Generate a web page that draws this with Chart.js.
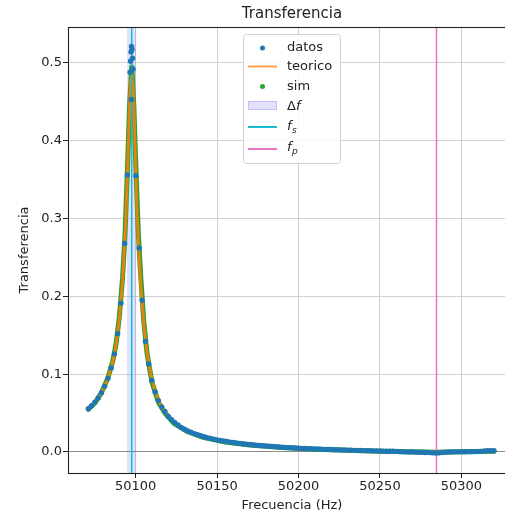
<!DOCTYPE html>
<html>
<head>
<meta charset="utf-8">
<script src="https://cdn.jsdelivr.net/npm/chart.js@4.4.1/dist/chart.umd.min.js"></script>
<style>
  html, body { margin: 0; padding: 0; background: #fff; overflow: hidden; }
  #wrap { width: 505px; height: 513px; overflow: hidden; }
</style>
</head>
<body>
<div id="wrap"><canvas id="transfer" width="520" height="513"></canvas></div>
<script>
// measured transfer vs frequency
const fDatos = [50071, 50073, 50075, 50077, 50079, 50081, 50083, 50085, 50087, 50089, 50091,
  50093.3, 50094.9, 50096.6, 50096.9, 50097.2, 50097.4, 50097.5, 50097.8, 50098.1, 50098.4, 50100.2, 50102.2,
  50104, 50106, 50108, 50110, 50112, 50114, 50116, 50118, 50120, 50122, 50124, 50126, 50128, 50130,
  50132, 50134, 50136, 50138, 50140, 50142, 50144, 50146, 50148, 50150, 50152, 50154, 50156, 50158,
  50160, 50162, 50164, 50166, 50168, 50170, 50172, 50174, 50176, 50178, 50180, 50182, 50184, 50186,
  50188, 50190, 50192, 50194, 50196, 50198, 50200, 50202, 50204, 50206, 50208, 50210, 50212, 50214,
  50216, 50218, 50220, 50222, 50224, 50226, 50228, 50230, 50232, 50234, 50236, 50238, 50240, 50242,
  50244, 50246, 50248, 50250, 50252, 50254, 50256, 50258, 50260, 50262, 50264, 50266, 50268, 50270,
  50272, 50274, 50276, 50278, 50280, 50282, 50284, 50286, 50288, 50290, 50292, 50294, 50296, 50298,
  50300, 50302, 50304, 50306, 50308, 50310, 50312, 50314, 50316, 50318, 50320];
const tDatos = [0.0556, 0.0595, 0.0641, 0.0695, 0.0762, 0.0843, 0.0946, 0.108, 0.126, 0.152, 0.191,
  0.268, 0.356, 0.488, 0.502, 0.514, 0.453, 0.521, 0.517, 0.506, 0.492, 0.355, 0.262,
  0.195, 0.142, 0.113, 0.092, 0.077, 0.066, 0.058, 0.052, 0.046, 0.0415, 0.0378, 0.0346, 0.0315, 0.0292,
  0.0271, 0.0253, 0.0236, 0.0222, 0.0208, 0.0196, 0.0185, 0.0175, 0.0165, 0.0156, 0.0148, 0.0141, 0.0134, 0.0127,
  0.0121, 0.0116, 0.0110, 0.0105, 0.0100, 0.0096, 0.0092, 0.0088, 0.0084, 0.0080, 0.0077, 0.0073, 0.0070, 0.0067,
  0.0064, 0.0061, 0.0059, 0.0056, 0.0054, 0.0052, 0.0049, 0.0047, 0.0045, 0.0043, 0.0041, 0.0039, 0.0038, 0.0036,
  0.0034, 0.0033, 0.0031, 0.0029, 0.0028, 0.0027, 0.0025, 0.0024, 0.0023, 0.0021, 0.0020, 0.0019, 0.0018, 0.0017,
  0.0016, 0.0014, 0.0013, 0.0012, 0.0011, 0.0010, 0.0010, 0.0009, 0.0008, 0.0004, 0.0002, 0.0001, 0.0, 0.0,
  -0.0002, -0.0003, -0.0004, -0.0006, -0.0008, -0.0011, -0.0014, -0.0012, -0.0007, -0.0003, 0.0, 0.0001, 0.0002, 0.0002,
  0.0003, 0.0003, 0.0004, 0.0004, 0.0005, 0.0006, 0.0008, 0.0013, 0.0017, 0.0016, 0.0015];

// theoretical curve
const fTeorico = [50071, 50075, 50079, 50083, 50086, 50088, 50090, 50092, 50094, 50095.5, 50096.7, 50097.6,
  50098.5, 50099.7, 50101, 50103, 50105, 50107, 50110, 50114, 50118, 50124, 50132, 50142, 50155, 50170,
  50190, 50210, 50230, 50250, 50270, 50284, 50300, 50320];
const tTeorico = [0.056, 0.064, 0.076, 0.094, 0.116, 0.138, 0.170, 0.219, 0.300, 0.390, 0.470, 0.485,
  0.470, 0.390, 0.300, 0.219, 0.165, 0.127, 0.092, 0.066, 0.052, 0.038, 0.027, 0.0196, 0.0138, 0.0096,
  0.0061, 0.0039, 0.0024, 0.0012, 0.0003, 0.0, 0.0004, 0.0011];

// simulation
const fSim = [50071, 50075, 50079, 50083, 50086, 50088, 50090, 50092, 50093.5, 50095, 50096.3, 50097.6,
  50098.9, 50100.2, 50101.7, 50103.2, 50105, 50107, 50110, 50114, 50118, 50124, 50132, 50142, 50155,
  50170, 50190, 50210, 50230, 50250, 50270, 50284, 50300, 50320];
const tSim = [0.055, 0.063, 0.076, 0.095, 0.117, 0.139, 0.173, 0.224, 0.280, 0.365, 0.445, 0.495,
  0.445, 0.365, 0.280, 0.224, 0.168, 0.127, 0.090, 0.064, 0.050, 0.036, 0.026, 0.0185, 0.0128,
  0.0090, 0.0057, 0.0036, 0.0022, 0.0011, 0.0002, -0.0003, 0.0002, 0.0010];

const fs = 50097.6;              // series resonance
const fp = 50284.7;              // parallel resonance
const deltaF = [50094.7, 50100.5];

const xTicks = [50100, 50150, 50200, 50250, 50300];
const yTicks = [0.0, 0.1, 0.2, 0.3, 0.4, 0.5];

const X_MIN = 50058.5, X_MAX = 50333.5;
const Y_MIN = -0.027, Y_MAX = 0.546;
const FONT = 'DejaVu Sans';
const TXT = '#222';

const pts = (xs, ys) => xs.map((x, i) => ({ x: x, y: ys[i] }));
const vline = f => [{ x: f, y: Y_MIN }, { x: f, y: Y_MAX }];

// axes frame
const frame = {
  id: 'frame',
  afterDatasetsDraw(chart) {
    const { ctx, chartArea: a } = chart;
    const l = Math.round(a.left) + 0.5, t = Math.round(a.top) + 0.5;
    const r = Math.round(a.right) + 0.5, b = Math.round(a.bottom) + 0.5;
    ctx.save();
    ctx.strokeStyle = '#222';
    ctx.lineWidth = 1.1;
    ctx.strokeRect(l, t, r - l, b - t);
    ctx.restore();
  }
};

// matplotlib-like legend box
const legendBox = {
  id: 'legendBox',
  afterDraw(chart) {
    const ctx = chart.ctx;
    const x0 = 243.5, y0 = 34.5, w = 97, h = 129;
    const hx0 = 248, hx1 = 277, tx = 287;
    ctx.save();
    ctx.beginPath();
    ctx.roundRect(x0, y0, w, h, 3);
    ctx.fillStyle = 'rgba(255,255,255,0.85)';
    ctx.fill();
    ctx.strokeStyle = '#d0d0d0';
    ctx.lineWidth = 1;
    ctx.stroke();

    const dot = (y, c) => {
      ctx.beginPath();
      ctx.arc((hx0 + hx1) / 2, y, 2.5, 0, Math.PI * 2);
      ctx.fillStyle = c;
      ctx.fill();
    };
    const seg = (y, c) => {
      ctx.beginPath();
      ctx.moveTo(hx0, y);
      ctx.lineTo(hx1, y);
      ctx.strokeStyle = c;
      ctx.lineWidth = 2;
      ctx.stroke();
    };
    const label = (y, s) => {
      ctx.font = '13px ' + FONT;
      ctx.fillStyle = TXT;
      ctx.textBaseline = 'middle';
      ctx.textAlign = 'left';
      ctx.fillText(s, tx, y);
    };
    const fSub = (base, sub) => {
      ctx.fillStyle = TXT;
      ctx.textBaseline = 'alphabetic';
      ctx.textAlign = 'left';
      ctx.font = 'italic 13px ' + FONT;
      ctx.fillText('f', tx, base);
      ctx.font = 'italic 9px ' + FONT;
      ctx.fillText(sub, tx + 5, base + 3);
    };

    dot(48, '#1f77b4');
    label(48, 'datos');
    seg(66.5, 'rgba(255,127,14,0.75)');
    label(66.5, 'teorico');
    dot(86.5, '#2ca02c');
    label(86.5, 'sim');

    ctx.fillStyle = 'rgba(60,60,255,0.15)';
    ctx.fillRect(hx0, 101, hx1 - hx0, 9);
    ctx.strokeStyle = 'rgba(60,60,255,0.2)';
    ctx.lineWidth = 1;
    ctx.strokeRect(hx0 + 0.5, 101.5, hx1 - hx0 - 1, 8);
    ctx.font = '13px ' + FONT;
    ctx.fillStyle = TXT;
    ctx.textBaseline = 'alphabetic';
    ctx.fillText('\u0394', tx, 110);
    ctx.font = 'italic 13px ' + FONT;
    ctx.fillText('f', tx + 9, 110);

    seg(127, '#17becf');
    fSub(130, 's');
    seg(149, '#e377c2');
    fSub(151, 'p');
    ctx.restore();
  }
};

new Chart(document.getElementById('transfer'), {
  type: 'scatter',
  data: {
    datasets: [{
      label: 'datos',
      data: pts(fDatos, tDatos),
      showLine: false,
      pointRadius: 2.7,
      pointBorderWidth: 0,
      backgroundColor: '#1f77b4',
      borderColor: '#1f77b4',
      order: 0
    }, {
      label: 'fs',
      data: vline(fs),
      showLine: true,
      borderColor: '#17becf',
      borderWidth: 1.5,
      pointRadius: 0,
      order: 1
    }, {
      label: 'fp',
      data: vline(fp),
      showLine: true,
      borderColor: '#e377c2',
      borderWidth: 1.5,
      pointRadius: 0,
      order: 1
    }, {
      label: 'teorico',
      data: pts(fTeorico, tTeorico),
      showLine: true,
      borderColor: 'rgba(255,127,14,0.85)',
      borderWidth: 3,
      borderJoinStyle: 'round',
      pointRadius: 0,
      order: 2
    }, {
      label: 'sim',
      data: pts(fSim, tSim),
      showLine: true,
      borderColor: '#2ca02c',
      borderWidth: 5,
      borderJoinStyle: 'round',
      borderCapStyle: 'round',
      pointRadius: 0,
      order: 3
    }, {
      label: 'Δf',
      data: [{ x: deltaF[0], y: Y_MAX }, { x: deltaF[1], y: Y_MAX }],
      showLine: true,
      fill: 'start',
      backgroundColor: 'rgba(60,60,255,0.15)',
      borderWidth: 0,
      pointRadius: 0,
      order: 4
    }]
  },
  options: {
    responsive: false,
    animation: false,
    events: [],
    layout: { padding: { left: 0, right: 3, top: 0, bottom: 0 } },
    plugins: {
      legend: { display: false },
      tooltip: { enabled: false },
      title: {
        display: true,
        text: 'Transferencia',
        fullSize: false,
        color: TXT,
        font: { family: FONT, size: 15, weight: 'normal' },
        padding: { top: 5, bottom: 4 }
      }
    },
    scales: {
      x: {
        type: 'linear',
        min: X_MIN,
        max: X_MAX,
        afterFit: s => { s.height = 40; },
        afterBuildTicks: s => { s.ticks = xTicks.map(v => ({ value: v })); },
        ticks: {
          autoSkip: false,
          maxRotation: 0,
          padding: 1,
          color: TXT,
          font: { family: FONT, size: 13 },
          callback: v => String(v)
        },
        grid: { color: '#d0d0d0', lineWidth: 1, tickLength: 5, tickColor: '#222', tickWidth: 1 },
        border: { display: false },
        title: {
          display: true,
          text: 'Frecuencia (Hz)',
          color: TXT,
          font: { family: FONT, size: 13 },
          padding: 0
        }
      },
      y: {
        type: 'linear',
        min: Y_MIN,
        max: Y_MAX,
        afterFit: s => { s.width = 68; },
        afterBuildTicks: s => { s.ticks = yTicks.map(v => ({ value: v })); },
        ticks: {
          autoSkip: false,
          padding: 1,
          color: TXT,
          font: { family: FONT, size: 13 },
          callback: v => v.toFixed(1)
        },
        grid: {
          color: c => (c.tick && c.tick.value === 0 ? '#8c8c8c' : '#d0d0d0'),
          lineWidth: 1,
          tickLength: 5,
          tickColor: '#222',
          tickWidth: 1
        },
        border: { display: false },
        title: {
          display: true,
          text: 'Transferencia',
          color: TXT,
          font: { family: FONT, size: 13 },
          padding: { top: 17, bottom: 0 }
        }
      }
    }
  },
  plugins: [frame, legendBox]
});
</script>
</body>
</html>
